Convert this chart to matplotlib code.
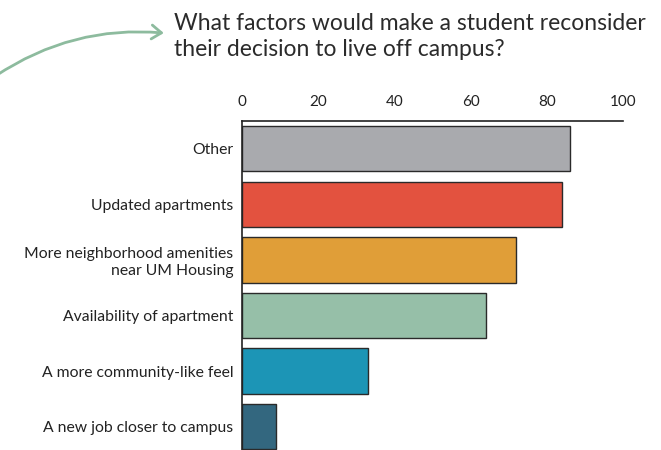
import matplotlib.pyplot as plt

factors = [
    "Other",
    "Updated apartments",
    "More neighborhood amenities\nnear UM Housing",
    "Availability of apartment",
    "A more community-like feel",
    "A new job closer to campus",
]
responses = [86, 84, 72, 64, 33, 9]
bar_colors = ["#A9AAAE", "#E3523F", "#E09E38", "#96BFA8", "#1C95B6", "#33677F"]
x_ticks = [0, 20, 40, 60, 80, 100]

plt.rcParams["font.family"] = ["Lato", "DejaVu Sans"]

fig = plt.figure(figsize=(6.61, 4.5), dpi=100)
ax = fig.add_axes([0.366, 0.0, 0.5765, 0.731])

ax.barh(
    range(len(factors)),
    responses,
    height=0.815,
    color=bar_colors,
    edgecolor="#2a2a2a",
    linewidth=1,
)

ax.set_xlim(0, 100)
ax.set_ylim(5.42, -0.5)
ax.set_yticks(range(len(factors)))
ax.set_yticklabels(factors, fontsize=11.3, color="#222222")
ax.set_xticks(x_ticks)
ax.set_xticklabels([str(t) for t in x_ticks], fontsize=11, color="#222222")
ax.xaxis.tick_top()
ax.tick_params(axis="both", length=0)
ax.tick_params(axis="x", pad=9)
ax.tick_params(axis="y", pad=6)

for side in ["right", "bottom"]:
    ax.spines[side].set_visible(False)
for side in ["left", "top"]:
    ax.spines[side].set_color("#222222")
    ax.spines[side].set_linewidth(1.2)

fig.text(
    0.263, 0.97,
    "What factors would make a student reconsider\ntheir decision to live off campus?",
    fontsize=16.5, color="#2b2b2b", ha="left", va="top", linespacing=1.25,
)

# curved green pointer leading into the question
fig.patches.append(plt.matplotlib.patches.FancyArrowPatch(
    (-0.01, 0.828), (0.252, 0.926),
    transform=fig.transFigure,
    connectionstyle="arc3,rad=-0.18",
    arrowstyle="->,head_length=7,head_width=5",
    color="#8DBB9E", linewidth=2,
))

fig.savefig("out.png", dpi=100)
